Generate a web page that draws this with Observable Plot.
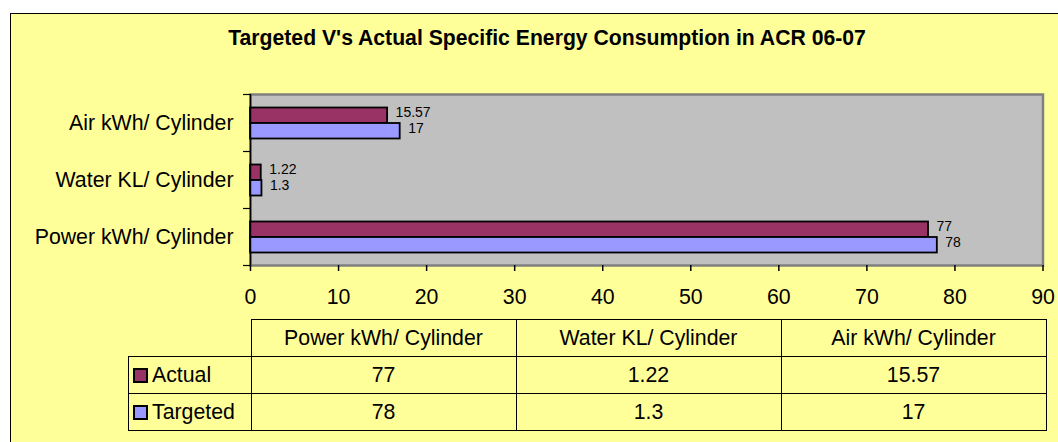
<!DOCTYPE html>
<html>
<head>
<meta charset="utf-8">
<script src="https://cdn.jsdelivr.net/npm/d3@7"></script>
<script src="https://cdn.jsdelivr.net/npm/@observablehq/plot@0.6"></script>
<style>
  html, body { margin: 0; padding: 0; background: #ffffff; }
  #wrap { position: relative; width: 1058px; height: 442px; overflow: hidden; font-family: "Liberation Sans", Arial, sans-serif; }
  #box { position: absolute; left: 10px; top: 13px; width: 1100px; height: 500px; background: #FFFF99; border: 1px solid #000; }
  #title { position: absolute; left: 10px; width: 1074px; top: 26px; text-align: center; font-weight: bold; font-size: 21.2px; color: #000; }
  #chart { position: absolute; left: 0; top: 0; }
  #tbl { position: absolute; left: 128px; top: 319px; border-collapse: collapse; font-size: 21.3px; color: #000; }
  #tbl td { border: 1px solid #000; text-align: center; padding: 0; height: 36px; }
  #tbl td.blank { border: none; }
  #tbl td.leg { text-align: left; padding-left: 4px; white-space: nowrap; }
  .sw { display: inline-block; width: 11px; height: 11px; border: 2px solid #000; vertical-align: -1px; margin-right: 4px; }
</style>
</head>
<body>
<div id="wrap">
  <div id="box"></div>
  <div id="title"></div>
  <div id="chart"></div>
  <table id="tbl"></table>
</div>
<script>
const titleText = "Targeted V's Actual Specific Energy Consumption in ACR 06-07";
const categories = ["Power kWh/ Cylinder", "Water KL/ Cylinder", "Air kWh/ Cylinder"];
const seriesNames = ["Actual", "Targeted"];
const actual = [77, 1.22, 15.57];
const targeted = [78, 1.3, 17];
const actualLabels = ["77", "1.22", "15.57"];
const targetedLabels = ["78", "1.3", "17"];
const xTicks = [0, 10, 20, 30, 40, 50, 60, 70, 80, 90];
const colors = ["#993366", "#9999FF"];

const yOrder = categories.slice().reverse(); // Air at top
const actualRows = categories.map((c, i) => ({category: c, value: actual[i], label: actualLabels[i]}));
const targetedRows = categories.map((c, i) => ({category: c, value: targeted[i], label: targetedLabels[i]}));

document.getElementById("title").textContent = titleText;

const chart = Plot.plot({
  width: 1058,
  height: 442,
  marginLeft: 250,
  marginRight: 15.5,
  marginTop: 94,
  marginBottom: 177,
  style: {background: "transparent", fontFamily: "'Liberation Sans', Arial, sans-serif", fontSize: "21.3px", color: "#000"},
  x: {domain: [0, 90]},
  y: {domain: yOrder, padding: 0},
  marks: [
    Plot.frame({fill: "#C0C0C0"}),
    Plot.frame({stroke: "#808080", strokeWidth: 2.5}),
    Plot.barX(actualRows, {x: "value", y: "category", fill: colors[0], stroke: "#000", strokeWidth: 1.8, insetTop: 13.5, insetBottom: 28}),
    Plot.barX(targetedRows, {x: "value", y: "category", fill: colors[1], stroke: "#000", strokeWidth: 1.8, insetTop: 29, insetBottom: 12.5}),
    Plot.text(actualRows, {x: "value", y: "category", text: "label", textAnchor: "start", dx: 8, dy: -10, fontSize: 14, fill: "#000"}),
    Plot.text(targetedRows, {x: "value", y: "category", text: "label", textAnchor: "start", dx: 8, dy: 5.5, fontSize: 14, fill: "#000"}),
    Plot.ruleX([0], {stroke: "#000", strokeWidth: 1.5}),
    Plot.axisX({ticks: xTicks, tickSize: 6, tickPadding: 17, line: true, stroke: "#000", strokeWidth: 1.5, fontSize: 21.3, label: null}),
    Plot.axisY({tickSize: 0, tickPadding: 17, fontSize: 21.3, label: null}),
    Plot.axisY({tickSize: 7, dy: -28.5, stroke: "#000", strokeWidth: 1.2, tickFormat: () => "", label: null}),
    Plot.axisY({ticks: [categories[0]], tickSize: 7, dy: 28.5, stroke: "#000", strokeWidth: 1.2, tickFormat: () => "", label: null})
  ]
});
document.getElementById("chart").appendChild(chart);

// data table below the chart
const tbl = document.getElementById("tbl");
const widths = [122, 264, 264, 264];
const head = document.createElement("tr");
const blank = document.createElement("td");
blank.className = "blank";
blank.style.width = widths[0] + "px";
head.appendChild(blank);
categories.forEach((c, i) => {
  const td = document.createElement("td");
  td.textContent = c;
  td.style.width = widths[i + 1] + "px";
  head.appendChild(td);
});
tbl.appendChild(head);
[actualLabels, targetedLabels].forEach((labels, s) => {
  const tr = document.createElement("tr");
  const leg = document.createElement("td");
  leg.className = "leg";
  const sw = document.createElement("span");
  sw.className = "sw";
  sw.style.background = colors[s];
  leg.appendChild(sw);
  leg.appendChild(document.createTextNode(seriesNames[s]));
  tr.appendChild(leg);
  labels.forEach(v => {
    const td = document.createElement("td");
    td.textContent = v;
    tr.appendChild(td);
  });
  tbl.appendChild(tr);
});
</script>
</body>
</html>
